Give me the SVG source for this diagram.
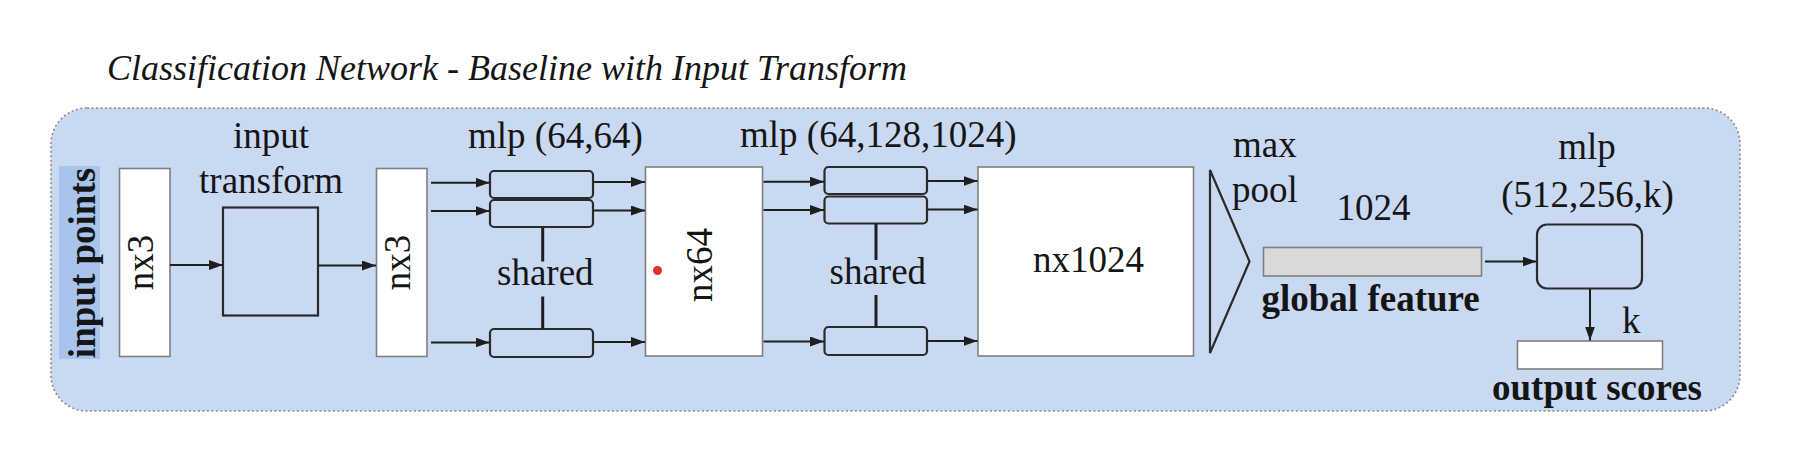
<svg xmlns="http://www.w3.org/2000/svg" width="1818" height="464" viewBox="0 0 1818 464">
<style>
  text { font-family: "Liberation Serif", "Times New Roman", serif; fill: #151515; }
  .t { font-size: 37px; }
  .b { font-size: 37px; font-weight: bold; }
  .m { text-anchor: middle; }
  .white { fill: #ffffff; stroke: #7f7f7f; stroke-width: 1.6; }
  .dark { fill: none; stroke: #2a2a2a; stroke-width: 2.2; }
  .conn line { stroke: #1e1e1e; stroke-width: 2; marker-end: url(#ah); }
  .shared line { stroke: #1e1e1e; stroke-width: 3; }
</style>
<defs>
  <marker id="ah" viewBox="0 0 14 10" refX="14" refY="5" markerWidth="14" markerHeight="10" markerUnits="userSpaceOnUse" orient="auto">
    <path d="M0,0 L14,5 L0,10 z" fill="#1e1e1e"/>
  </marker>
</defs>
<rect width="1818" height="464" fill="#ffffff"/>
<text x="107" y="80" style="font-size:36px;font-style:italic">Classification Network - Baseline with Input Transform</text>
<g id="container">
  <rect x="51" y="108" width="1689" height="303" rx="36" fill="#c9d9f2" stroke="#8a8a8a" stroke-width="1.6" stroke-dasharray="2 2.5"/>
</g>
<g id="input-points">
  <rect x="59" y="166" width="41" height="193" fill="#a8c4ec"/>
  <text class="b m" transform="translate(94.5,263) rotate(-90)">input points</text>
</g>
<g id="nx3-a">
  <rect class="white" x="119.5" y="168.5" width="50.5" height="188"/>
  <text class="t m" transform="translate(153,262.5) rotate(-90)">nx3</text>
</g>
<g id="input-transform">
  <text class="t m" x="271" y="148">input</text>
  <text class="t m" x="271" y="193">transform</text>
  <rect class="dark" x="223" y="207.5" width="95" height="108"/>
</g>
<g id="nx3-b">
  <rect class="white" x="376.5" y="168.5" width="50.5" height="188"/>
  <text class="t m" transform="translate(410,262.5) rotate(-90)">nx3</text>
</g>
<g id="mlp1">
  <text class="t" x="468" y="148">mlp (64,64)</text>
  <rect class="dark" x="490" y="171" width="103" height="27" rx="4"/>
  <rect class="dark" x="490" y="200" width="103" height="27" rx="4"/>
  <rect class="dark" x="490" y="329" width="103" height="28" rx="4"/>
  <text class="t" x="497" y="285">shared</text>
</g>
<g id="nx64">
  <rect class="white" x="645.5" y="167" width="117" height="189"/>
  <circle cx="657.5" cy="270.5" r="4.5" fill="#e03030"/>
  <text class="t m" transform="translate(711.5,265) rotate(-90)">nx64</text>
</g>
<g id="mlp2">
  <text class="t" x="740" y="147">mlp (64,128,1024)</text>
  <rect class="dark" x="824.5" y="167" width="102.5" height="27" rx="4"/>
  <rect class="dark" x="824.5" y="196.5" width="102.5" height="27" rx="4"/>
  <rect class="dark" x="824.5" y="327" width="102.5" height="28" rx="4"/>
  <text class="t" x="829.5" y="283.5">shared</text>
</g>
<g id="nx1024">
  <rect class="white" x="978" y="167" width="215.5" height="189"/>
  <text class="t" x="1033" y="271.5">nx1024</text>
</g>
<g id="maxpool">
  <path class="dark" d="M1210,170 L1249.5,261.5 L1210,353 Z" stroke-linejoin="miter"/>
  <text class="t" x="1233" y="156.5">max</text>
  <text class="t" x="1232" y="201.5">pool</text>
</g>
<g id="global-feature">
  <text class="t" x="1336.5" y="219.5">1024</text>
  <rect x="1263.5" y="247.5" width="218" height="28.5" fill="#d9d9d9" stroke="#7f7f7f" stroke-width="1.6"/>
  <text class="b" x="1261.5" y="311">global feature</text>
</g>
<g id="mlp3">
  <text class="t m" x="1587" y="158.5">mlp</text>
  <text class="t m" x="1587.5" y="206.5">(512,256,k)</text>
  <rect class="dark" x="1537" y="224.5" width="105" height="64" rx="10"/>
</g>
<g id="output-scores">
  <text class="t" x="1622" y="332.5">k</text>
  <rect class="white" x="1517.5" y="341" width="145" height="28"/>
  <text class="b" x="1492" y="399.5">output scores</text>
</g>
<g id="connectors" class="conn">
  <line x1="170" y1="265" x2="223" y2="265"/>
  <line x1="318" y1="265.5" x2="376" y2="265.5"/>
  <line x1="431" y1="182.7" x2="489.5" y2="182.7"/>
  <line x1="431" y1="211" x2="489.5" y2="211"/>
  <line x1="431" y1="342.5" x2="489.5" y2="342.5"/>
  <line x1="594" y1="182" x2="645" y2="182"/>
  <line x1="594" y1="210.5" x2="645" y2="210.5"/>
  <line x1="594" y1="342" x2="645" y2="342"/>
  <line x1="763.5" y1="181.7" x2="824" y2="181.7"/>
  <line x1="763.5" y1="210" x2="824" y2="210"/>
  <line x1="763.5" y1="341.5" x2="824" y2="341.5"/>
  <line x1="928" y1="181" x2="977.5" y2="181"/>
  <line x1="928" y1="209.5" x2="977.5" y2="209.5"/>
  <line x1="928" y1="341" x2="977.5" y2="341"/>
  <line x1="1485" y1="261.5" x2="1536.5" y2="261.5"/>
  <line x1="1590" y1="289" x2="1590" y2="340.5"/>
</g>
<g id="shared-links" class="shared">
  <line x1="542.7" y1="227.5" x2="542.7" y2="261.5"/>
  <line x1="542.7" y1="296.5" x2="542.7" y2="329"/>
  <line x1="876" y1="223.5" x2="876" y2="260"/>
  <line x1="876" y1="295" x2="876" y2="327"/>
</g>
</svg>
